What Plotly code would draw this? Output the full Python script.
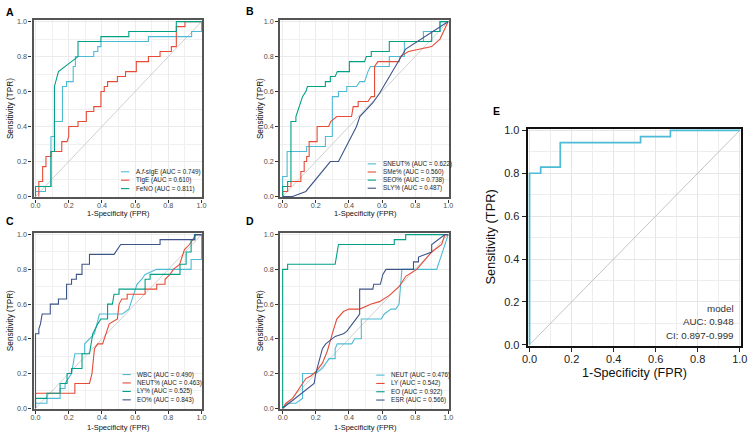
import plotly.graph_objects as go

# ---------------- data ----------------
TICK_VALS = [0.0, 0.2, 0.4, 0.6, 0.8, 1.0]
TICK_TEXT = ["0.0", "0.2", "0.4", "0.6", "0.8", "1.0"]
MINOR_VALS = [0.1, 0.3, 0.5, 0.7, 0.9]

# Panel A
A_SIGE_FPR = [0, 0, 0.06, 0.06, 0.093, 0.093, 0.114, 0.114, 0.162, 0.162, 0.187, 0.187, 0.227, 0.227, 0.24, 0.24, 0.351, 0.351, 0.375, 0.375, 0.394, 0.394, 0.68, 0.68, 0.94, 0.94, 1.0, 1.0]
A_SIGE_TPR = [0, 0.029, 0.029, 0.057, 0.057, 0.343, 0.343, 0.429, 0.429, 0.629, 0.629, 0.657, 0.657, 0.743, 0.743, 0.8, 0.8, 0.829, 0.829, 0.857, 0.857, 0.886, 0.886, 0.914, 0.914, 0.943, 0.943, 1.0]
A_TIGE_FPR = [0.02, 0.02, 0.043, 0.043, 0.063, 0.063, 0.093, 0.093, 0.158, 0.158, 0.19, 0.2, 0.2, 0.256, 0.256, 0.306, 0.306, 0.351, 0.351, 0.394, 0.394, 0.414, 0.414, 0.434, 0.434, 0.493, 0.493, 0.542, 0.542, 0.607, 0.607, 0.68, 0.68, 0.75, 0.75, 0.818, 0.818, 0.848, 0.848, 0.9, 0.9, 1.0]
A_TIGE_TPR = [0, 0.086, 0.086, 0.171, 0.171, 0.229, 0.229, 0.257, 0.257, 0.314, 0.314, 0.343, 0.4, 0.4, 0.429, 0.429, 0.486, 0.486, 0.514, 0.514, 0.6, 0.6, 0.629, 0.629, 0.657, 0.657, 0.686, 0.686, 0.714, 0.714, 0.771, 0.771, 0.8, 0.8, 0.829, 0.829, 0.857, 0.857, 0.971, 0.971, 1.0, 1.0]
A_FENO_FPR = [0, 0, 0.093, 0.093, 0.114, 0.114, 0.138, 0.256, 0.256, 0.394, 0.394, 0.562, 0.562, 0.848, 0.848, 1.0]
A_FENO_TPR = [0, 0.057, 0.057, 0.257, 0.257, 0.629, 0.714, 0.8, 0.886, 0.886, 0.914, 0.914, 0.943, 0.943, 1.0, 1.0]

# Panel B
B_SNEUT_FPR = [0, 0, 0.027, 0.027, 0.145, 0.145, 0.258, 0.258, 0.3, 0.3, 0.337, 0.337, 0.387, 0.387, 0.446, 0.466, 0.495, 0.515, 0.53, 0.644, 0.644, 0.735, 0.735, 0.85, 0.85, 0.95, 0.95, 1.0]
B_SNEUT_TPR = [0, 0.114, 0.114, 0.257, 0.257, 0.286, 0.286, 0.343, 0.343, 0.571, 0.571, 0.6, 0.6, 0.629, 0.629, 0.657, 0.657, 0.714, 0.743, 0.743, 0.8, 0.8, 0.886, 0.886, 0.943, 0.943, 1.0, 1.0]
B_SME_FPR = [0, 0, 0.03, 0.03, 0.05, 0.05, 0.11, 0.11, 0.13, 0.13, 0.145, 0.145, 0.16, 0.16, 0.208, 0.208, 0.278, 0.29, 0.327, 0.416, 0.426, 0.456, 0.456, 0.515, 0.535, 0.555, 0.555, 0.575, 0.703, 0.71, 0.76, 0.9, 0.95, 1.0]
B_SME_TPR = [0, 0.029, 0.029, 0.057, 0.057, 0.086, 0.086, 0.143, 0.143, 0.2, 0.2, 0.229, 0.229, 0.314, 0.314, 0.4, 0.4, 0.429, 0.457, 0.457, 0.514, 0.514, 0.543, 0.543, 0.571, 0.571, 0.743, 0.771, 0.771, 0.8, 0.829, 0.857, 0.9, 1.0]
B_SEO_FPR = [0, 0, 0.03, 0.03, 0.05, 0.05, 0.08, 0.08, 0.12, 0.14, 0.15, 0.258, 0.258, 0.288, 0.288, 0.317, 0.33, 0.403, 0.403, 0.495, 0.505, 0.535, 0.535, 0.644, 0.644, 0.9, 0.9, 0.95, 0.95, 1.0]
B_SEO_TPR = [0, 0.057, 0.057, 0.086, 0.086, 0.429, 0.429, 0.457, 0.571, 0.6, 0.629, 0.629, 0.657, 0.657, 0.686, 0.686, 0.714, 0.714, 0.771, 0.771, 0.8, 0.8, 0.829, 0.829, 0.886, 0.886, 0.943, 0.943, 1.0, 1.0]
B_SLY_FPR = [0, 0.06, 0.14, 0.288, 0.337, 0.446, 0.466, 0.545, 0.585, 0.743, 1.0]
B_SLY_TPR = [0, 0, 0.029, 0.2, 0.2, 0.4, 0.457, 0.536, 0.59, 0.843, 1.0]

# Panel C
C_WBC_FPR = [0, 0, 0.069, 0.069, 0.148, 0.148, 0.178, 0.178, 0.217, 0.237, 0.296, 0.296, 0.355, 0.375, 0.385, 0.523, 0.562, 0.572, 0.59, 0.611, 0.64, 0.66, 0.73, 0.937, 0.937, 1.0, 1.0]
C_WBC_TPR = [0, 0.029, 0.029, 0.057, 0.057, 0.114, 0.114, 0.143, 0.2, 0.314, 0.314, 0.371, 0.429, 0.514, 0.543, 0.543, 0.571, 0.6, 0.657, 0.714, 0.743, 0.771, 0.8, 0.8, 0.857, 0.857, 1.0]
C_NEUT_FPR = [0, 0, 0.237, 0.237, 0.325, 0.34, 0.355, 0.375, 0.404, 0.424, 0.444, 0.493, 0.503, 0.52, 0.552, 0.552, 0.66, 0.66, 0.73, 0.73, 0.78, 0.78, 0.81, 0.83, 0.868, 0.897, 0.927, 0.947, 0.966, 1.0]
C_NEUT_TPR = [0, 0.086, 0.086, 0.143, 0.143, 0.2, 0.343, 0.371, 0.371, 0.429, 0.486, 0.514, 0.6, 0.629, 0.629, 0.657, 0.657, 0.686, 0.686, 0.714, 0.714, 0.743, 0.771, 0.8, 0.829, 0.914, 0.943, 0.971, 1.0, 1.0]
C_LY_FPR = [0, 0, 0.069, 0.069, 0.148, 0.148, 0.19, 0.19, 0.217, 0.217, 0.28, 0.28, 0.325, 0.345, 0.375, 0.394, 0.434, 0.434, 0.463, 0.473, 0.503, 0.503, 0.66, 0.66, 0.69, 0.69, 0.87, 0.87, 0.907, 0.907, 0.937, 0.937, 0.957, 0.957, 1.0]
C_LY_TPR = [0, 0.057, 0.057, 0.086, 0.086, 0.143, 0.143, 0.2, 0.2, 0.229, 0.229, 0.314, 0.314, 0.429, 0.486, 0.514, 0.514, 0.6, 0.6, 0.657, 0.657, 0.686, 0.686, 0.743, 0.743, 0.771, 0.771, 0.829, 0.829, 0.9, 0.9, 0.971, 0.971, 1.0, 1.0]
C_EO_FPR = [0, 0, 0.02, 0.02, 0.03, 0.04, 0.089, 0.089, 0.138, 0.138, 0.187, 0.187, 0.217, 0.217, 0.246, 0.246, 0.28, 0.28, 0.325, 0.325, 0.473, 0.513, 0.75, 0.75, 0.96, 0.96, 1.0]
C_EO_TPR = [0, 0.429, 0.429, 0.457, 0.486, 0.543, 0.543, 0.6, 0.6, 0.629, 0.629, 0.714, 0.714, 0.743, 0.743, 0.771, 0.771, 0.829, 0.829, 0.886, 0.886, 0.943, 0.943, 0.971, 0.971, 1.0, 1.0]

# Panel D
D_NEUT_FPR = [0, 0.03, 0.08, 0.12, 0.12, 0.2, 0.24, 0.28, 0.317, 0.317, 0.33, 0.417, 0.435, 0.475, 0.475, 0.595, 0.614, 0.654, 0.683, 0.703, 0.72, 0.93, 0.97, 1.0]
D_NEUT_TPR = [0, 0.029, 0.029, 0.057, 0.2, 0.2, 0.229, 0.286, 0.286, 0.343, 0.371, 0.371, 0.4, 0.4, 0.514, 0.514, 0.543, 0.571, 0.571, 0.6, 0.8, 0.8, 0.914, 1.0]
D_LY_FPR = [0, 0.02, 0.06, 0.08, 0.1, 0.12, 0.14, 0.17, 0.2, 0.24, 0.27, 0.3, 0.313, 0.327, 0.367, 0.4, 0.465, 0.535, 0.585, 0.644, 0.703, 0.743, 0.81, 0.86, 0.9, 0.96, 0.98, 1.0]
D_LY_TPR = [0, 0.029, 0.057, 0.086, 0.114, 0.143, 0.171, 0.186, 0.21, 0.26, 0.33, 0.43, 0.475, 0.514, 0.557, 0.571, 0.571, 0.6, 0.614, 0.65, 0.7, 0.76, 0.8, 0.857, 0.9, 0.943, 1.0, 1.0]
D_EO_FPR = [0, 0, 0.03, 0.03, 0.317, 0.337, 0.674, 0.674, 0.743, 0.743, 1.0]
D_EO_TPR = [0, 0.8, 0.8, 0.829, 0.829, 0.943, 0.943, 0.971, 0.971, 1.0, 1.0]
D_ESR_FPR = [0, 0.19, 0.2, 0.24, 0.26, 0.317, 0.367, 0.387, 0.455, 0.465, 0.465, 0.545, 0.55, 0.59, 0.605, 0.624, 0.79, 0.79, 0.82, 0.82, 0.86, 0.9, 0.9, 0.98, 1.0]
D_ESR_TPR = [0, 0.143, 0.2, 0.343, 0.371, 0.414, 0.429, 0.443, 0.529, 0.543, 0.686, 0.686, 0.714, 0.714, 0.771, 0.8, 0.8, 0.843, 0.843, 0.871, 0.886, 0.9, 0.943, 1.0, 1.0]

# Panel E
E_MODEL_FPR = [0, 0, 0.053, 0.053, 0.146, 0.146, 0.528, 0.528, 0.67, 0.67, 1.0]
E_MODEL_TPR = [0, 0.8, 0.8, 0.829, 0.829, 0.943, 0.943, 0.971, 0.971, 1.0, 1.0]
E_TEXT = ["model", "AUC: 0.948", "CI: 0.897-0.999"]

DIAG = [0, 1]

# ---------------- styling ----------------
W, H = 756, 437
FONT = "Liberation Sans, Arial, Helvetica, sans-serif"
CYAN, RED, GREEN, NAVY = "#4DBBD5", "#E64B35", "#00A087", "#3C5488"


def fx(px):
    return px / W


def fy(py):
    return 1 - py / H


# panel geometry in pixels: (left, right, top, bottom, xrange, yrange)
PANELS = {
    "A": dict(l=28, r=199.5, t=15, b=197, xr=[-0.012, 1.003], yr=[-0.0056, 1.011]),
    "B": dict(l=279, r=450.5, t=15, b=197, xr=[-0.0148, 1.003], yr=[-0.0056, 1.011]),
    "C": dict(l=28, r=199.5, t=233.3, b=413.5, xr=[-0.012, 1.003], yr=[-0.0045, 1.0096]),
    "D": dict(l=279, r=450.5, t=233.3, b=413.5, xr=[-0.0148, 1.003], yr=[-0.0045, 1.0096]),
    "E": dict(l=531, r=747.7, t=126.7, b=348.5, xr=[-0.008, 1.005], yr=[-0.0036, 1.0073]),
}

SERIES = {
    "A": [("A.<i>f</i>-sIgE (AUC = 0.749)", A_SIGE_FPR, A_SIGE_TPR, CYAN),
          ("TIgE (AUC = 0.610)", A_TIGE_FPR, A_TIGE_TPR, RED),
          ("FeNO (AUC = 0.811)", A_FENO_FPR, A_FENO_TPR, GREEN)],
    "B": [("SNEUT% (AUC = 0.622)", B_SNEUT_FPR, B_SNEUT_TPR, CYAN),
          ("SMe% (AUC = 0.560)", B_SME_FPR, B_SME_TPR, RED),
          ("SEO% (AUC = 0.738)", B_SEO_FPR, B_SEO_TPR, GREEN),
          ("SLY% (AUC = 0.487)", B_SLY_FPR, B_SLY_TPR, NAVY)],
    "C": [("WBC (AUC = 0.490)", C_WBC_FPR, C_WBC_TPR, CYAN),
          ("NEUT% (AUC = 0.463)", C_NEUT_FPR, C_NEUT_TPR, RED),
          ("LY% (AUC = 0.525)", C_LY_FPR, C_LY_TPR, GREEN),
          ("EO% (AUC = 0.843)", C_EO_FPR, C_EO_TPR, NAVY)],
    "D": [("NEUT (AUC = 0.476)", D_NEUT_FPR, D_NEUT_TPR, CYAN),
          ("LY (AUC = 0.542)", D_LY_FPR, D_LY_TPR, RED),
          ("EO (AUC = 0.922)", D_EO_FPR, D_EO_TPR, GREEN),
          ("ESR (AUC = 0.566)", D_ESR_FPR, D_ESR_TPR, NAVY)],
    "E": [("model", E_MODEL_FPR, E_MODEL_TPR, CYAN)],
}

# legend placement (pixels): key x0, key x1, text x, row y's
LEGENDS = {
    "A": dict(k0=117, k1=125.5, tx=130, rows=[170.7, 179.3, 187.9]),
    "B": dict(k0=368, k1=376.5, tx=381.5, rows=[162.6, 170.9, 179.2, 187.5]),
    "C": dict(k0=118.5, k1=127, tx=131.7, rows=[378.2, 386.8, 395.5, 404.1]),
    "D": dict(k0=376.7, k1=385.2, tx=390, rows=[378.8, 387.3, 395.8, 404.3]),
}

LETTER_POS = {"A": (4, 6.7), "B": (248.7, 6.2), "C": (4, 221.3), "D": (248.5, 221.3), "E": (499.5, 108.3)}
YTITLE_POS = {"A": (4.6, 106), "B": (259, 106), "C": (4.6, 323), "D": (259, 323), "E": (493.5, 238)}
XTITLE_POS = {"A": (114.5, 213.2), "B": (366, 213.2), "C": (114.5, 432.2), "D": (366, 432.2), "E": (639.7, 376.8)}

fig = go.Figure()
layout = dict(
    width=W, height=H, margin=dict(l=0, r=0, t=0, b=0),
    paper_bgcolor="white", plot_bgcolor="white", showlegend=False,
    font=dict(family=FONT),
)
annotations = []
shapes = []

for i, key in enumerate(["A", "B", "C", "D", "E"]):
    p = PANELS[key]
    n = "" if i == 0 else str(i + 1)
    xa, ya = "x" + n, "y" + n
    big = key == "E"
    fig.add_trace(go.Scatter(x=DIAG, y=DIAG, mode="lines", xaxis=xa, yaxis=ya,
                             line=dict(color="#C4C4C4", width=1.0 if big else 0.8),
                             hoverinfo="skip"))
    for name, xs, ys, col in SERIES[key]:
        assert len(xs) == len(ys), name
        fig.add_trace(go.Scatter(x=xs, y=ys, mode="lines", name=name, xaxis=xa, yaxis=ya,
                                 line=dict(color=col, width=1.7 if big else 1.1)))
    common = dict(
        tickmode="array", tickvals=TICK_VALS, ticktext=TICK_TEXT,
        ticks="outside", ticklen=4.3 if big else 3, tickwidth=1 if big else 0.8,
        tickcolor="#222" if big else "#333",
        tickfont=dict(size=11 if big else 7.2, color="#222" if big else "#4D4D4D", family=FONT),
        showline=True, mirror=True,
        linecolor="#111" if big else "#555555", linewidth=1.8 if big else 2.2,
        showgrid=True, gridcolor="#E6E6E6" if big else "#EBEBEB", gridwidth=1 if big else 0.8,
        minor=dict(tickmode="array", tickvals=MINOR_VALS, showgrid=True,
                   gridcolor="#EDEDED" if big else "#F0F0F0", gridwidth=0.8 if big else 0.6, ticks=""),
        zeroline=False, fixedrange=True,
    )
    layout["xaxis" + n] = dict(common, domain=[fx(p["l"]), fx(p["r"])], range=p["xr"], anchor=ya,
                               ticklabelstandoff=-2 if big else -3)
    layout["yaxis" + n] = dict(common, domain=[fy(p["b"]), fy(p["t"])], range=p["yr"], anchor=xa)

    # panel letters and axis titles
    lx, ly = LETTER_POS[key]
    annotations.append(dict(text="<b>%s</b>" % key, x=fx(lx), y=fy(ly), xref="paper", yref="paper",
                            showarrow=False, xanchor="center", yanchor="middle",
                            font=dict(size=10.5, color="black", family=FONT)))
    tx, ty = YTITLE_POS[key]
    annotations.append(dict(text="Sensitivity (TPR)", x=fx(tx), y=fy(ty), xref="paper", yref="paper",
                            showarrow=False, textangle=-90, xanchor="center", yanchor="middle",
                            font=dict(size=12.8 if big else 8.2, color="#111", family=FONT)))
    tx, ty = XTITLE_POS[key]
    annotations.append(dict(text="1-Specificity (FPR)", x=fx(tx), y=fy(ty), xref="paper", yref="paper",
                            showarrow=False, xanchor="center", yanchor="middle",
                            font=dict(size=12.6 if big else 7.5, color="#111", family=FONT)))

    # legends
    if key in LEGENDS:
        lg = LEGENDS[key]
        for (name, xs, ys, col), ry in zip(SERIES[key], lg["rows"]):
            shapes.append(dict(type="line", xref="paper", yref="paper",
                               x0=fx(lg["k0"]), x1=fx(lg["k1"]), y0=fy(ry), y1=fy(ry),
                               line=dict(color=col, width=1.1)))
            annotations.append(dict(text=name, x=fx(lg["tx"]), y=fy(ry), xref="paper", yref="paper",
                                    showarrow=False, xanchor="left", yanchor="middle",
                                    font=dict(size=6.3, color="#1A1A1A", family=FONT)))

# Panel E annotation text
for txt, ry in zip(E_TEXT, [310.7, 324.3, 337.8]):
    annotations.append(dict(text=txt, x=fx(742.5), y=fy(ry), xref="paper", yref="paper",
                            showarrow=False, xanchor="right", yanchor="middle",
                            font=dict(size=9.8, color="#333", family=FONT)))

layout["annotations"] = annotations
layout["shapes"] = shapes
fig.update_layout(**layout)
fig.write_html("out.html", config={"displayModeBar": False},
               post_script="document.body.style.margin='0px';document.body.style.overflow='hidden';")
